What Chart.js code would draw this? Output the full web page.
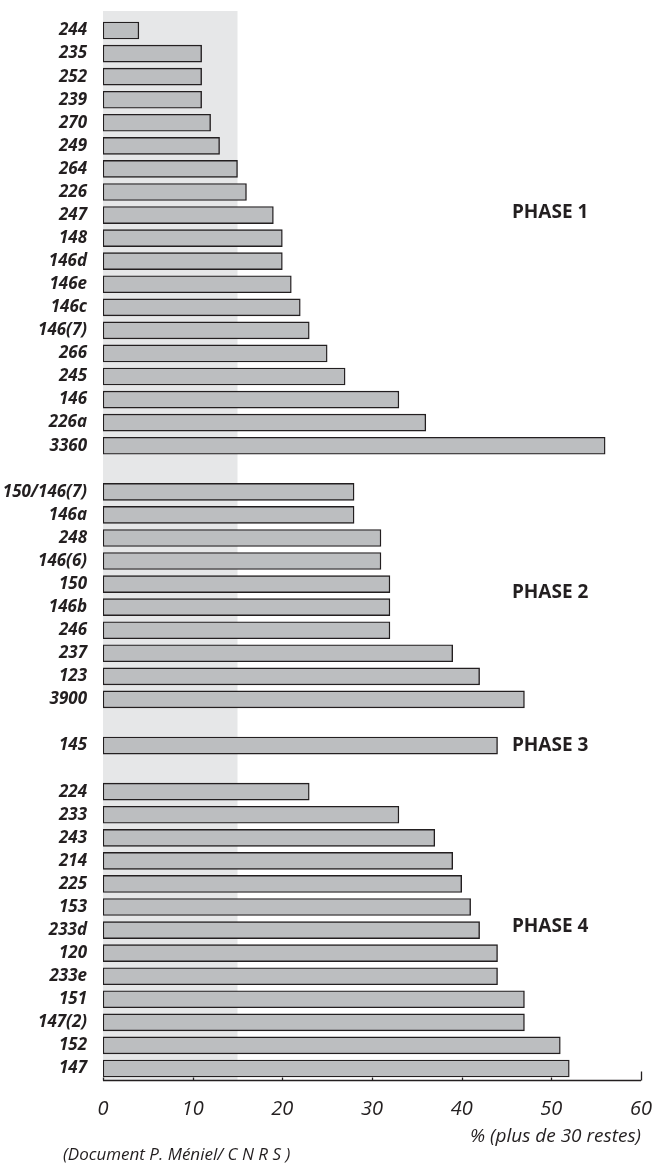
<!DOCTYPE html>
<html><head><meta charset="utf-8">
<script src="https://cdn.jsdelivr.net/npm/chart.js@4/dist/chart.umd.min.js"></script>
<style>html,body{margin:0;padding:0;background:#fff}#wrap{width:655px;height:1167px;position:relative}</style>
</head><body><div id="wrap"><canvas id="c"></canvas></div>
<script>
// ---- data ----
const phase1Labels = ['244','235','252','239','270','249','264','226','247','148','146d','146e','146c','146(7)','266','245','146','226a','3360'];
const phase1Values = [4,11,11,11,12,13,15,16,19,20,20,21,22,23,25,27,33,36,56];
const phase2Labels = ['150/146(7)','146a','248','146(6)','150','146b','246','237','123','3900'];
const phase2Values = [28,28,31,31,32,32,32,39,42,47];
const phase3Labels = ['145'];
const phase3Values = [44];
const phase4Labels = ['224','233','243','214','225','153','233d','120','233e','151','147(2)','152','147'];
const phase4Values = [23,33,37,39,40,41,42,44,44,47,47,51,52];
const phaseNames = ['PHASE 1','PHASE 2','PHASE 3','PHASE 4'];
const xTickValues = [0,10,20,30,40,50,60];
const shadedRange = [0,15];
const xTitle = '% (plus de 30 restes)';
const footnote = '(Document P. Méniel/ C N R S )';

// ---- build category list with blank separator rows ----
const groupsL = [phase1Labels, phase2Labels, phase3Labels, phase4Labels];
const groupsV = [phase1Values, phase2Values, phase3Values, phase4Values];
const labels = [], values = [], groupStart = [];
groupsL.forEach((g, i) => {
  if (i > 0) { labels.push(''); values.push(null); }
  groupStart.push(labels.length);
  g.forEach((l, j) => { labels.push(l); values.push(groupsV[i][j]); });
});
// row offset of each phase name inside its group
const phaseRowOffset = [7.9, 4.36, 0, 5.83];

const INK = '#231f20';
const FONT = "'Open Sans', 'DejaVu Sans', sans-serif";

const decor = {
  id: 'decor',
  beforeDatasetsDraw(chart) {
    const {ctx, chartArea, scales: {x}} = chart;
    const x0 = x.getPixelForValue(shadedRange[0]);
    const x1 = x.getPixelForValue(shadedRange[1]);
    ctx.save();
    ctx.fillStyle = '#e6e7e8';
    ctx.fillRect(x0, chartArea.top - 8, x1 - x0, chartArea.bottom - chartArea.top + 8);
    ctx.restore();
  },
  afterDraw(chart) {
    const {ctx, chartArea, scales: {x, y}} = chart;
    ctx.save();
    ctx.strokeStyle = INK;
    ctx.lineWidth = 1.3;
    const yb = chartArea.bottom + 0.5;
    ctx.beginPath();
    ctx.moveTo(chartArea.left, yb);
    ctx.lineTo(chartArea.right, yb);
    x.ticks.forEach((t, i) => {
      const px = Math.round(x.getPixelForValue(t.value)) + 0.5;
      const len = (i === x.ticks.length - 1) ? 9 : 3;
      ctx.moveTo(px, yb);
      ctx.lineTo(px, yb - len);
    });
    ctx.stroke();
    ctx.fillStyle = INK;
    ctx.font = "bold 19px " + FONT;
    ctx.textAlign = 'left';
    ctx.textBaseline = 'middle';
    phaseNames.forEach((n, i) => {
      ctx.fillText(n, x.getPixelForValue(45.6), y.getPixelForValue(groupStart[i] + phaseRowOffset[i]));
    });
    ctx.font = "italic 17px " + FONT;
    ctx.fillText(footnote, 63, 1155);
    ctx.restore();
  }
};

new Chart(document.getElementById('c'), {
  type: 'bar',
  data: {
    labels: labels,
    datasets: [{
      data: values,
      backgroundColor: '#bcbec0',
      borderColor: INK,
      borderWidth: 1.4,
      borderSkipped: false,
      barThickness: 17
    }]
  },
  options: {
    indexAxis: 'y',
    responsive: true,
    maintainAspectRatio: false,
    animation: false,
    devicePixelRatio: 1,
    layout: {padding: {top: 19, right: 14, bottom: 19, left: 0}},
    plugins: {legend: {display: false}, tooltip: {enabled: false}},
    scales: {
      y: {
        type: 'category',
        grid: {display: false, drawTicks: false},
        border: {display: false},
        afterFit(scale) { scale.width = 103; scale.paddingTop = 0; scale.paddingBottom = 0; },
        ticks: {
          autoSkip: false,
          color: INK,
          padding: 16,
          crossAlign: 'near',
          font: {family: FONT, size: 17, weight: 'bold', style: 'italic'}
        }
      },
      x: {
        type: 'linear',
        min: xTickValues[0],
        max: xTickValues[xTickValues.length - 1],
        afterBuildTicks(scale) { scale.ticks = xTickValues.map(v => ({value: v})); },
        afterFit(scale) { scale.height = 68; scale.paddingLeft = 0; scale.paddingRight = 0; },
        grid: {display: false, drawTicks: false},
        border: {display: false},
        ticks: {
          color: INK,
          padding: 17,
          maxRotation: 0,
          font: {family: FONT, size: 20, style: 'italic'}
        },
        title: {
          display: true,
          text: xTitle,
          align: 'end',
          color: INK,
          padding: {top: 4, bottom: 0},
          font: {family: FONT, size: 19, style: 'italic'}
        }
      }
    }
  },
  plugins: [decor]
});
</script>
</body></html>
